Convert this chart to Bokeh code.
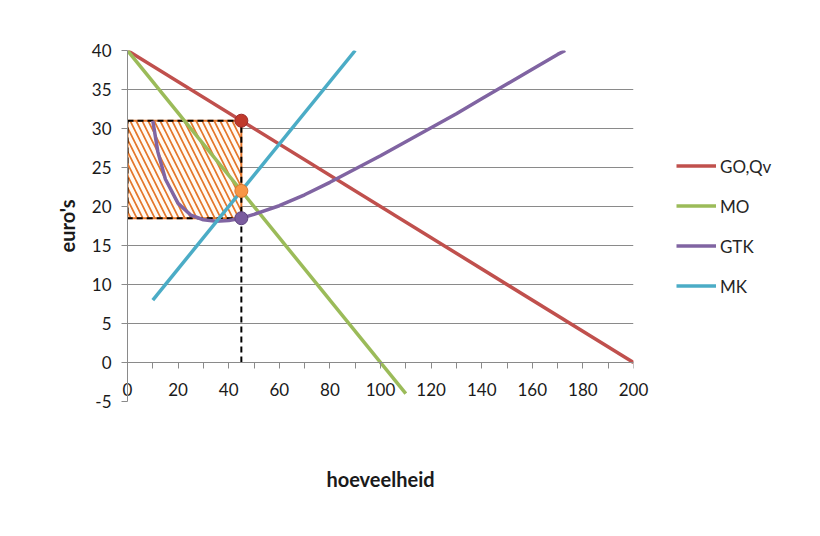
from bokeh.plotting import figure
from bokeh.models import Range1d, FixedTicker, Legend, LegendItem, LinearAxis
from bokeh.embed import file_html
from bokeh.resources import INLINE

# ---- data ----
q_go = [0, 200]
go = [40, 0]

q_mo = [0, 110]
mo = [40, -4]

q_mk = [10, 90]
mk = [8, 40]

q_gtk = [10, 12, 15, 20, 25, 30, 35, 40, 45, 50, 60, 70, 80, 90, 100,
         110, 120, 130, 140, 150, 160, 170, 173]
gtk = [31.0, 27.0, 23.5, 20.4, 18.9, 18.3, 18.1, 18.2, 18.5, 19.0, 20.1,
       21.5, 23.1, 24.8, 26.5, 28.3, 30.1, 31.9, 33.8, 35.7, 37.6, 39.5, 40.0]

q_opt = 45
p_opt = 31
mo_opt = 22
gtk_opt = 18.5

y_ticks = [-5, 0, 5, 10, 15, 20, 25, 30, 35, 40]
x_ticks = [0, 20, 40, 60, 80, 100, 120, 140, 160, 180, 200]
x_minor = [10, 30, 50, 70, 90, 110, 130, 150, 170, 190]

FONT = "Lato"
TXT = "#1a1a1a"
GRID = "#8a8a8a"

p = figure(width=820, height=536, frame_width=506, frame_height=351,
           output_backend="svg", toolbar_location=None,
           x_range=Range1d(0, 200), y_range=Range1d(-5, 40),
           min_border_left=127, min_border_right=187,
           min_border_top=50, min_border_bottom=135)
p.outline_line_color = None
p.background_fill_color = "white"
p.border_fill_color = "white"

# grid
p.xgrid.visible = False
p.ygrid.ticker = FixedTicker(ticks=y_ticks)
p.ygrid.grid_line_color = GRID
p.ygrid.grid_line_width = 1

# y axis
p.yaxis.ticker = FixedTicker(ticks=y_ticks)
p.yaxis.major_label_overrides = {-5: "-5"}
p.yaxis.axis_line_color = GRID
p.yaxis.major_tick_line_color = GRID
p.yaxis.major_tick_out = 6
p.yaxis.major_tick_in = 0
p.yaxis.minor_tick_line_color = None
p.yaxis.major_label_text_font = FONT
p.yaxis.major_label_text_font_size = "17px"
p.yaxis.major_label_text_color = TXT
p.yaxis.major_label_standoff = 10
p.yaxis.axis_label = "euro's"
p.yaxis.axis_label_text_font = FONT
p.yaxis.axis_label_text_font_size = "20px"
p.yaxis.axis_label_text_font_style = "bold"
p.yaxis.axis_label_text_color = TXT
p.yaxis.axis_label_standoff = 10

# x axis labels (at frame bottom, pulled up into the -5..0 band)
xa = p.xaxis[0]
xa.ticker = FixedTicker(ticks=x_ticks)
xa.axis_line_color = None
xa.major_tick_line_color = None
xa.minor_tick_line_color = None
xa.major_tick_out = 0
xa.major_tick_in = 0
xa.major_label_text_font = FONT
xa.major_label_text_font_size = "17px"
xa.major_label_text_color = TXT
xa.major_label_standoff = -19
xa.axis_label = "hoeveelheid"
xa.axis_label_text_font = FONT
xa.axis_label_text_font_size = "20px"
xa.axis_label_text_font_style = "bold"
xa.axis_label_text_color = TXT
xa.axis_label_standoff = 68

# tick marks of the x axis at y = 0
xt = LinearAxis(fixed_location=0,
                ticker=FixedTicker(ticks=x_ticks, minor_ticks=x_minor))
xt.axis_line_color = GRID
xt.major_tick_line_color = GRID
xt.minor_tick_line_color = GRID
xt.major_tick_out = 6
xt.major_tick_in = 0
xt.minor_tick_out = 6
xt.minor_tick_in = 0
xt.major_label_text_alpha = 0
xt.major_label_text_font_size = "1px"
p.add_layout(xt, "below")

# hatched profit rectangle
p.quad(left=[0], right=[q_opt], bottom=[gtk_opt], top=[p_opt],
       fill_color="#FFFBF5", hatch_pattern="\\", hatch_color="#E4762A",
       hatch_weight=1.7, hatch_scale=12,
       line_color="#E4762A", line_width=2)
p.quad(left=[0], right=[q_opt], bottom=[gtk_opt], top=[p_opt],
       fill_alpha=0, line_color="black", line_width=2, line_dash="6 4")

W = 3.5
r_go = p.line(q_go, go, line_color="#C0504D", line_width=W)
r_mo = p.line(q_mo, mo, line_color="#9BBB59", line_width=W)
r_gtk = p.line(q_gtk, gtk, line_color="#8064A2", line_width=W)
r_mk = p.line(q_mk, mk, line_color="#4BACC6", line_width=W)

# dashed drop line
p.line([q_opt, q_opt], [0, gtk_opt], line_color="black", line_width=2,
       line_dash="6 4")

# points
p.scatter([q_opt], [p_opt], size=13, fill_color="#C0392B", line_color="#9E2A2A")
p.scatter([q_opt], [mo_opt], size=13, fill_color="#F79646", line_color="#D9762A")
p.scatter([q_opt], [gtk_opt], size=13, fill_color="#7A5C9E", line_color="#5E4580")

legend = Legend(items=[
    LegendItem(label="GO,Qv", renderers=[r_go]),
    LegendItem(label="MO", renderers=[r_mo]),
    LegendItem(label="GTK", renderers=[r_gtk]),
    LegendItem(label="MK", renderers=[r_mk]),
], location="left")
legend.glyph_width = 40
legend.glyph_height = 20
legend.label_height = 20
legend.label_standoff = 4
legend.spacing = 19
legend.padding = 0
legend.margin = 43
legend.border_line_color = None
legend.background_fill_alpha = 0
legend.label_text_font = FONT
legend.label_text_font_size = "17px"
legend.label_text_color = "#262626"
p.add_layout(legend, "right")

open("out.html", "w").write(file_html(p, INLINE))
